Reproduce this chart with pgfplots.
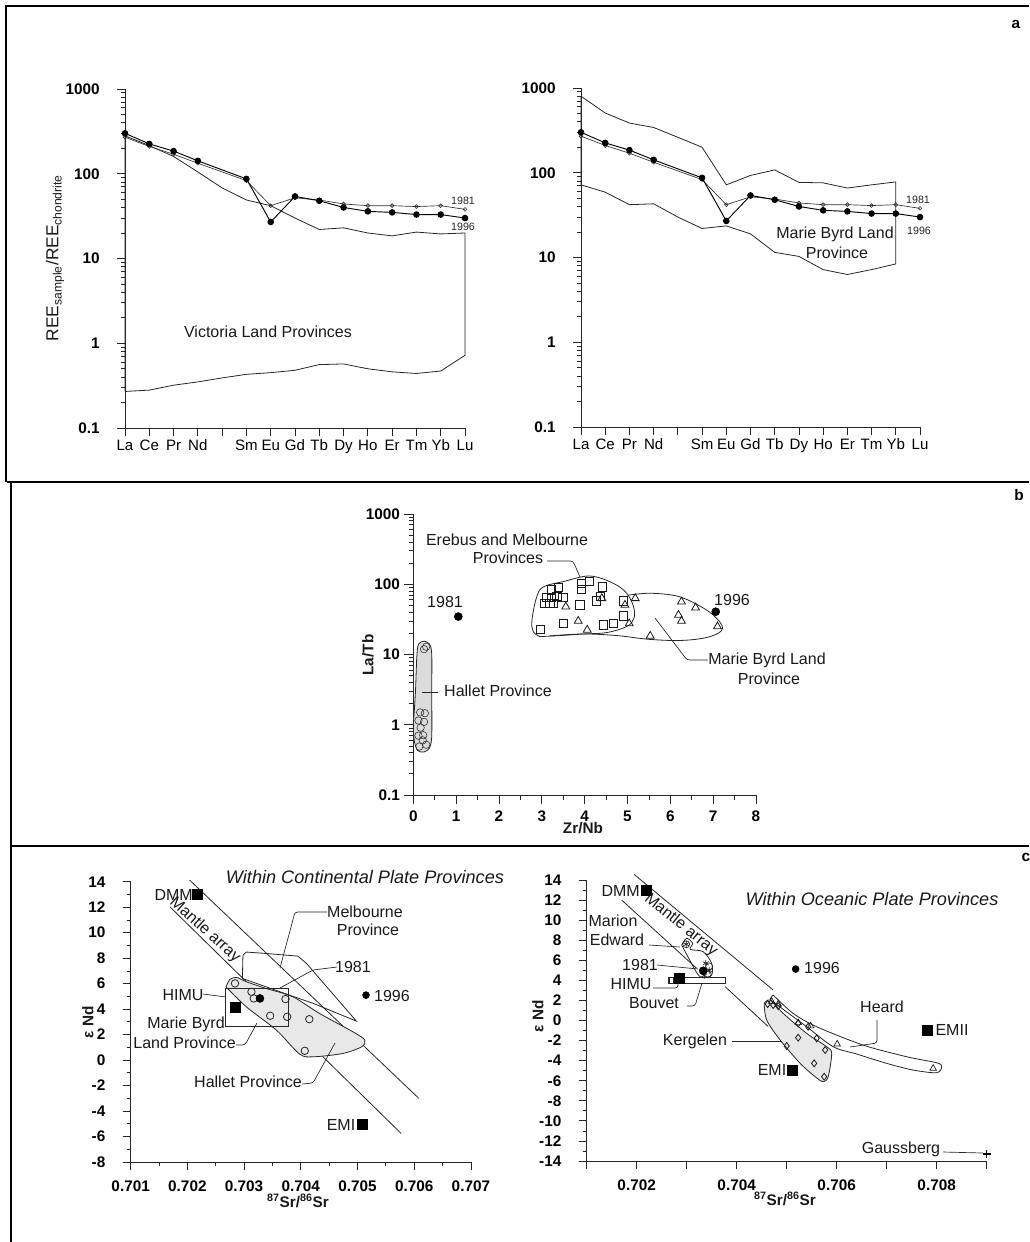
\documentclass[border=0pt]{standalone}
\usepackage{fontspec}
\setmainfont{Liberation Sans}
\usepackage{pgfplots}
\pgfplotsset{compat=1.18}
\newcommand{\lbl}{\fontsize{12}{14}\selectfont}
\newcommand{\lblx}{\fontsize{11.3}{13}\selectfont}
\newcommand{\lblb}{\fontsize{11.5}{13}\selectfont\bfseries}
\newcommand{\ttl}{\fontsize{13.6}{15}\selectfont\itshape}
\newcommand{\sml}{\fontsize{8}{10}\selectfont}
\pgfplotsset{
  myaxbase/.style={scale only axis, clip=false, axis lines=left,
    axis line style={-, line width=.6pt, black!85},
    tick align=outside, tick style={black!85, line width=.6pt},
    major tick length=6pt, minor tick length=3pt,
    tick label style={inner sep=0pt, outer sep=0pt}},
  myree/.style={myaxbase, width=255pt, height=254.25pt, xmin=0, xmax=14,
    ymin=0.1, ymax=1000,
    xtick={0,1,2,3,4,5,6,7,8,9,10,11,12,13,14},
    xticklabels={La,Ce,Pr,Nd,,Sm,Eu,Gd,Tb,Dy,Ho,Er,Tm,Yb,Lu},
    ytick={0.1,1,10,100,1000}, yticklabels={0.1,1,10,100,1000},
    xticklabel style={font=\lblx, anchor=north, yshift=-3pt},
    yticklabel style={font=\lblb, anchor=east, xshift=-13pt}},
  myfield/.style={black!85, line width=.6pt, mark=none},
  mys96/.style={black, line width=.7pt, mark=*, mark size=2.1pt, mark options={fill=black}},
  mys81/.style={black!80, line width=.5pt, mark=o, mark size=1.4pt, mark options={fill=white}},
  myblk/.style={only marks, mark=square*, mark size=3.7pt, mark options={fill=black,draw=black}},
  mydot/.style={only marks, mark=*, mark size=2.6pt, mark options={fill=black,draw=black}},
  mystip/.style={draw=black!85, line width=.6pt, fill=black!9, mark=none, smooth, tension=.5},
  myisoy/.style={yticklabel style={font=\lblb, anchor=east, xshift=-13pt},
               xticklabel style={font=\lblb, anchor=north, yshift=-8pt}}
}
\begin{document}
\begin{tikzpicture}
\path[use as bounding box] (0,0) rectangle (771.75pt,-931.5pt);

% ---------- panel a, left
\begin{axis}[ymode=log, myree, at={(93.75pt,-321pt)}, anchor=south west]
\addplot[myfield] coordinates {(0,0.27)(1,0.28)(2,0.32)(3,0.35)(4,0.39)(5,0.43)(6,0.45)(7,0.48)(8,0.56)(9,0.57)(10,0.5)(11,0.46)(12,0.44)(13,0.47)(14,0.72)(14,20)(13,19.5)(12,20.5)(11,18.5)(10,20)(9,23)(8,22)(7,30)(6,42)(5,49)(4,68)(3,105)(2,160)(1,215)(0,280)(0,0.27)};
\addplot[mys81] coordinates {(0,270)(1,210)(2,170)(3,133)(5,83)(6,42)(7,52)(8,49)(9,44)(10,42)(11,42)(12,41)(13,42)(14,38)};
\addplot[mys96] coordinates {(0,300)(1,225)(2,185)(3,142)(5,87)(6,27)(7,54)(8,48)(9,40)(10,36)(11,35)(12,33)(13,33)(14,30)};
\end{axis}

% ---------- panel a, right
\begin{axis}[ymode=log, myree, width=254.25pt, at={(435.75pt,-320.25pt)}, anchor=south west]
\addplot[myfield] coordinates {(0,800)(1,507)(2,386)(3,342)(4,262)(5,200)(6,72)(7,93)(8,108)(9,77)(10,76)(11,66)(12,72)(13,78)(13,8.4)(12,7.2)(11,6.3)(10,7.2)(9,10.3)(8,11.5)(7,19)(6,23.6)(5,22)(4,30)(3,43)(2,42)(1,59)(0,72)(0,800)};
\addplot[mys81] coordinates {(0,270)(1,210)(2,170)(3,133)(5,83)(6,42)(7,52)(8,49)(9,44)(10,42)(11,42)(12,41)(13,42)(14,38)};
\addplot[mys96] coordinates {(0,300)(1,225)(2,185)(3,142)(5,87)(6,27)(7,54)(8,48)(9,40)(10,36)(11,35)(12,33)(13,33)(14,30)};
\end{axis}

% ---------- panel b
\begin{axis}[ymode=log, myaxbase, width=257pt, height=210.75pt, at={(310pt,-596.25pt)}, anchor=south west,
  xmin=0, xmax=8, ymin=0.1, ymax=1000,
  major tick length=7pt, minor tick length=3.5pt,
  xtick={0,1,2,3,4,5,6,7,8}, xticklabels={0,1,2,3,4,5,6,7,8},
  minor xtick={0.5,1.5,2.5,3.5,4.5,5.5,6.5,7.5},
  ytick={0.1,1,10,100,1000}, yticklabels={0.1,1,10,100,1000},
  xticklabel style={font=\lblb, anchor=north, yshift=-5pt},
  yticklabel style={font=\lblb, anchor=east, xshift=-3pt}]
\addplot[mystip, fill=black!14] coordinates {(0.0,1)(0.02,0.6)(0.1,0.43)(0.25,0.41)(0.38,0.47)(0.43,0.7)(0.43,3)(0.43,10)(0.38,14)(0.25,15.5)(0.12,14)(0.08,9)(0.05,3)(0.0,1)} --cycle;
\addplot[only marks, mark=o, mark size=2.8pt, black!85] coordinates {(0.3,12.9)(0.25,11.9)(0.16,1.5)(0.27,1.46)(0.25,1.1)(0.12,1.15)(0.17,0.91)(0.23,0.71)(0.12,0.7)(0.14,0.49)(0.3,0.52)(0.22,0.6)};
\addplot[myfield, smooth, tension=.6] coordinates {(2.96,18)(2.80,21.1)(2.77,31)(2.88,66)(3.04,92)(3.50,109)(4.12,131)(4.67,103)(4.98,74.5)(5.14,48)(5.15,32.7)(4.98,25)(4.51,20.5)(3.97,19.6)(3.35,18.5)(2.96,18)};
\addplot[myfield, smooth, tension=.6] coordinates {(3.19,18.4)(3.97,19.6)(4.75,18.6)(5.53,16.4)(6.30,15.9)(6.93,18)(7.22,23.6)(7.0,36.5)(6.61,52)(6.15,68)(5.53,74.5)(5.02,70)};
\addplot[only marks, mark=square, mark size=3.1pt, black!90, line width=.6pt] coordinates {(2.96,23)(3.07,53.5)(3.19,53.5)(3.27,53.5)(3.11,65)(3.23,65)(3.35,67)(3.23,83)(3.39,91)(3.49,65)(3.50,27.6)(3.89,50.7)(3.93,85)(3.93,103)(4.11,109)(4.28,58)(4.37,67)(4.41,92)(4.90,58)(4.90,35.3)(4.67,27.6)(4.44,26.3)};
\addplot[only marks, mark=triangle, mark size=3.4pt, black!90, line width=.6pt] coordinates {(3.56,48)(3.85,30)(4.06,22.4)(4.4,63)(4.94,50.7)(5.18,63)(5.04,27.6)(5.53,18.4)(6.26,56.5)(6.59,46.4)(6.19,36.5)(6.26,30)(7.10,25)};
\addplot[mydot, mark size=3pt] coordinates {(1.05,34.7)};
\addplot[mydot, mark size=3pt] coordinates {(7.06,40.7)};
\end{axis}

% ---------- panel c, left
\begin{axis}[myaxbase, myisoy, width=255.2pt, height=210.2pt, at={(98pt,-871.5pt)}, anchor=south west,
  xmin=0.701, xmax=0.707, ymin=-8, ymax=14,
  xtick={0.701,0.702,0.703,0.704,0.705,0.706,0.707},
  xticklabels={0.701,0.702,0.703,0.704,0.705,0.706,0.707},
  minor xtick={0.7015,0.7025,0.7035,0.7045,0.7055,0.7065},
  ytick={-8,-6,-4,-2,0,2,4,6,8,10,12,14},
  yticklabels={-8,-6,-4,-2,0,2,4,6,8,10,12,14},
  minor y tick num=1]
\addplot[myfield] coordinates {(0.70204,14.13)(0.70608,-3.0)};
\addplot[myfield] coordinates {(0.70169,12.04)(0.70577,-5.76)};
\addplot[mystip] coordinates {(0.70268,5.75)(0.70275,6.33)(0.70287,6.49)(0.70304,6.15)(0.70339,5.62)(0.70386,4.97)(0.70433,3.66)(0.70492,2.22)(0.70513,1.57)(0.70507,1.04)(0.70474,0.52)(0.70422,0.26)(0.70398,0.47)(0.70357,2.35)(0.70304,4.18)(0.70268,5.75)} --cycle;
\addplot[myfield] coordinates {(0.70297,6.41)(0.70298,8.24)(0.70304,8.48)(0.70339,8.37)(0.70395,8.16)(0.7041,7.59)(0.70498,3.06)(0.70422,4.45)(0.7038,5.1)(0.70339,5.75)(0.70297,6.41)};
\addplot[myfield] coordinates {(0.70267,5.62)(0.70379,5.62)(0.70379,2.66)(0.70267,2.66)(0.70267,5.62)};
\addplot[only marks, mark=o, mark size=2.8pt, black!85, line width=.6pt] coordinates {(0.70284,6.02)(0.70313,5.36)(0.70317,4.84)(0.70346,3.48)(0.70376,3.4)(0.70373,4.79)(0.70415,3.21)(0.70407,0.73)};
\addplot[myblk] coordinates {(0.70218,13.0)};
\addplot[myblk] coordinates {(0.70284,4.18)};
\addplot[myblk] coordinates {(0.70508,-5.03)};
\addplot[mydot] coordinates {(0.70515,5.1)};
\addplot[mydot, mark size=3pt] coordinates {(0.70328,4.84)};
\end{axis}

% ---------- panel c, right
\begin{axis}[myaxbase, myisoy, width=300pt, height=210.75pt, at={(440pt,-870.75pt)}, anchor=south west,
  xmin=0.701, xmax=0.709, ymin=-14, ymax=14,
  xtick={0.701,0.702,0.703,0.704,0.705,0.706,0.707,0.708,0.709},
  xticklabels={,0.702,,0.704,,0.706,,0.708,},
  ytick={-14,-12,-10,-8,-6,-4,-2,0,2,4,6,8,10,12,14},
  yticklabels={-14,-12,-10,-8,-6,-4,-2,0,2,4,6,8,10,12,14},
  minor y tick num=1]
\addplot[myfield] coordinates {(0.70195,14.56)(0.70473,3.04)};
\addplot[myfield] coordinates {(0.7017,12.0)(0.7032,5.2)};
\addplot[myfield] coordinates {(0.70377,3.37)(0.70463,-0.6)};
\addplot[mystip] coordinates {(0.70455,1.71)(0.70467,2.04)(0.70493,0.71)(0.7054,-1.28)(0.7058,-2.61)(0.7059,-3.28)(0.70583,-5.6)(0.70573,-6.1)(0.70557,-5.6)(0.70527,-4.27)(0.70487,-1.95)(0.7046,0.05)(0.70455,1.71)} --cycle;
\addplot[myfield, smooth, tension=.5] coordinates {(0.70473,2.54)(0.70513,0.71)(0.7056,-0.62)(0.70653,-2.45)(0.7074,-3.61)(0.708,-4.21)(0.7081,-4.6)(0.708,-5.2)(0.70753,-4.94)(0.707,-4.27)(0.7064,-3.34)(0.70593,-2.61)(0.7054,-0.62)(0.70473,1.87)(0.70468,2.21)(0.70473,2.54)};
\addplot[myfield, smooth, tension=.5] coordinates {(0.7029,7.52)(0.703,8.19)(0.70312,7.69)(0.70307,7.09)(0.70333,6.86)(0.7035,5.69)(0.7035,4.53)(0.70333,4.3)(0.70321,4.7)(0.7029,7.52)};
\addplot[myfield] coordinates {(0.70265,4.3)(0.70377,4.3)(0.70377,3.7)(0.70265,3.7)(0.70265,4.3)};
\addplot[only marks, mark=o, mark size=2.6pt, black!85, line width=.5pt] coordinates {(0.70299,7.6)(0.70345,5.4)(0.70342,4.6)};
\addplot[only marks, mark=asterisk, mark size=2.6pt, black!85, line width=.5pt] coordinates {(0.70299,7.6)(0.70338,5.7)(0.70345,5.0)(0.70335,4.5)};
\addplot[only marks, mark=square, mark size=2pt, black!85, line width=.5pt] coordinates {(0.70268,4.0)};
\addplot[only marks, mark=diamond, mark size=2.6pt, black!90, line width=.6pt] coordinates {(0.70462,1.64)(0.70523,-0.29)(0.7056,-1.78)(0.70523,-1.71)(0.705,-2.54)(0.70577,-2.94)(0.70555,-4.27)(0.70575,-5.6)(0.70473,1.54)(0.70483,1.44)(0.70543,-0.62)};
\addplot[only marks, mark=triangle, mark size=2.8pt, black!90, line width=.5pt] coordinates {(0.70793,-4.77)(0.70601,-2.35)(0.70548,-0.55)(0.70523,-0.22)(0.70483,1.64)(0.7047,1.9)};
\addplot[only marks, mark=+, mark size=3pt, black, line width=1pt] coordinates {(0.709,-13.3)};
\addplot[myblk] coordinates {(0.70219,13.0)};
\addplot[myblk] coordinates {(0.70285,4.2)};
\addplot[myblk] coordinates {(0.70512,-4.94)};
\addplot[myblk] coordinates {(0.70781,-0.95)};
\addplot[mydot] coordinates {(0.70518,5.13)};
\addplot[mydot, mark size=3pt] coordinates {(0.70333,4.96)};
\end{axis}

% ---------- frame, labels and leaders, in reference pixels
\begin{scope}[x=.75pt, y=-.75pt]
\draw[black, line width=1.6pt] (1029,6) -- (6,6) -- (6,482);
\draw[black, line width=1.6pt] (7,482) -- (1029,482);
\draw[black, line width=1.6pt] (11,482) -- (11,1242);
\draw[black, line width=1.4pt] (11,846) -- (1029,846);
\tikzset{myt/.style={font=\lbl, inner sep=0pt, text=black!90, align=center},
         mys/.style={font=\sml, inner sep=0pt, text=black!85},
         mypan/.style={font=\lblb, inner sep=0pt},
         mylead/.style={black!85, line width=.5pt, rounded corners=2pt}}
\node[mypan] at (1016,24) {a};
\node[mypan] at (1019,495) {b};
\node[mypan] at (1026,857) {c};
% a
\node[myt, rotate=90, font=\fontsize{13}{15}\selectfont] at (55,258) {REE\textsubscript{sample}/REE\textsubscript{chondrite}};
\node[myt] at (268,332) {Victoria Land Provinces};
\node[mys] at (463,201) {1981};
\node[mys] at (463,227) {1996};
\node[mys] at (918,200) {1981};
\node[mys] at (919,231) {1996};
\node[myt] at (835,234) {Marie Byrd Land};
\node[myt] at (837,253) {Province};
% b
\node[myt] at (507,540) {Erebus and Melbourne};
\node[myt] at (508,558) {Provinces};
\draw[mylead] (547,561) -- (573,561) -- (580,577);
\node[myt] at (445,602) {1981};
\node[myt] at (732,600) {1996};
\node[myt] at (498,691) {Hallet Province};
\draw[mylead] (422,692) -- (438,692);
\node[myt] at (767,660) {Marie Byrd Land};
\node[myt] at (769,679) {Province};
\draw[mylead] (708,660) -- (687,660) -- (655,618);
\node[myt, rotate=90, font=\lblb] at (368,655) {La/Tb};
\node[myt, font=\lblb] at (583,828) {Zr/Nb};
% c left
\node[myt, font=\ttl] at (365,877) {Within Continental Plate Provinces};
\node[myt, anchor=east] at (193,895) {DMM};
\node[myt, rotate=-42] at (205,930) {Mantle array};
\node[myt] at (365,912) {Melbourne};
\node[myt] at (368,930) {Province};
\draw[mylead] (327,912) -- (295,912) -- (280,968);
\node[myt] at (353,967) {1981};
\draw[mylead] (337,967) -- (313,970) -- (280,988);
\node[myt] at (392,996) {1996};
\node[myt] at (183,995) {HIMU};
\draw[mylead] (203,994) -- (226,997);
\node[myt, anchor=east] at (225,1024) {Marie Byrd};
\node[myt, anchor=east] at (236,1043) {Land Province};
\draw[mylead] (236,1045) -- (245,1045) -- (257,1023);
\node[myt] at (248,1082) {Hallet Province};
\draw[mylead] (302,1084) -- (313,1083) -- (335,1043);
\node[myt] at (341,1125) {EMI};
\node[myt, rotate=90, font=\lblb] at (88,1022) {ε Nd};
\node[myt, font=\lblb] at (298,1201) {\textsuperscript{87}Sr/\textsuperscript{86}Sr};
% c right
\node[myt, font=\ttl] at (872,899) {Within Oceanic Plate Provinces};
\node[myt, anchor=east] at (640,891) {DMM};
\node[myt, rotate=-39] at (681,925) {Mantle array};
\node[myt] at (613,921) {Marion};
\node[myt] at (617,940) {Edward};
\draw[mylead] (649,945) -- (680,947);
\node[myt] at (640,965) {1981};
\draw[mylead] (657,965) -- (698,969);
\node[myt] at (631,984) {HIMU};
\draw[mylead] (653,988) -- (678,988) -- (678,978);
\node[myt] at (654,1003) {Bouvet};
\draw[mylead] (687,1006) -- (695,1006) -- (702,983);
\node[myt] at (695,1041) {Kergelen};
\draw[mylead] (732,1041) -- (782,1041);
\node[myt] at (772,1070) {EMI};
\node[myt] at (882,1007) {Heard};
\draw[mylead] (877,1020) -- (877,1043) -- (850,1047);
\node[myt] at (952,1030) {EMII};
\node[myt] at (822,968) {1996};
\node[myt] at (901,1149) {Gaussberg};
\draw[mylead] (943,1152) -- (983,1153);
\node[myt, rotate=90, font=\lblb] at (538,1016) {ε Nd};
\node[myt, font=\lblb] at (785,1199) {\textsuperscript{87}Sr/\textsuperscript{86}Sr};
\end{scope}
\end{tikzpicture}
\end{document}
